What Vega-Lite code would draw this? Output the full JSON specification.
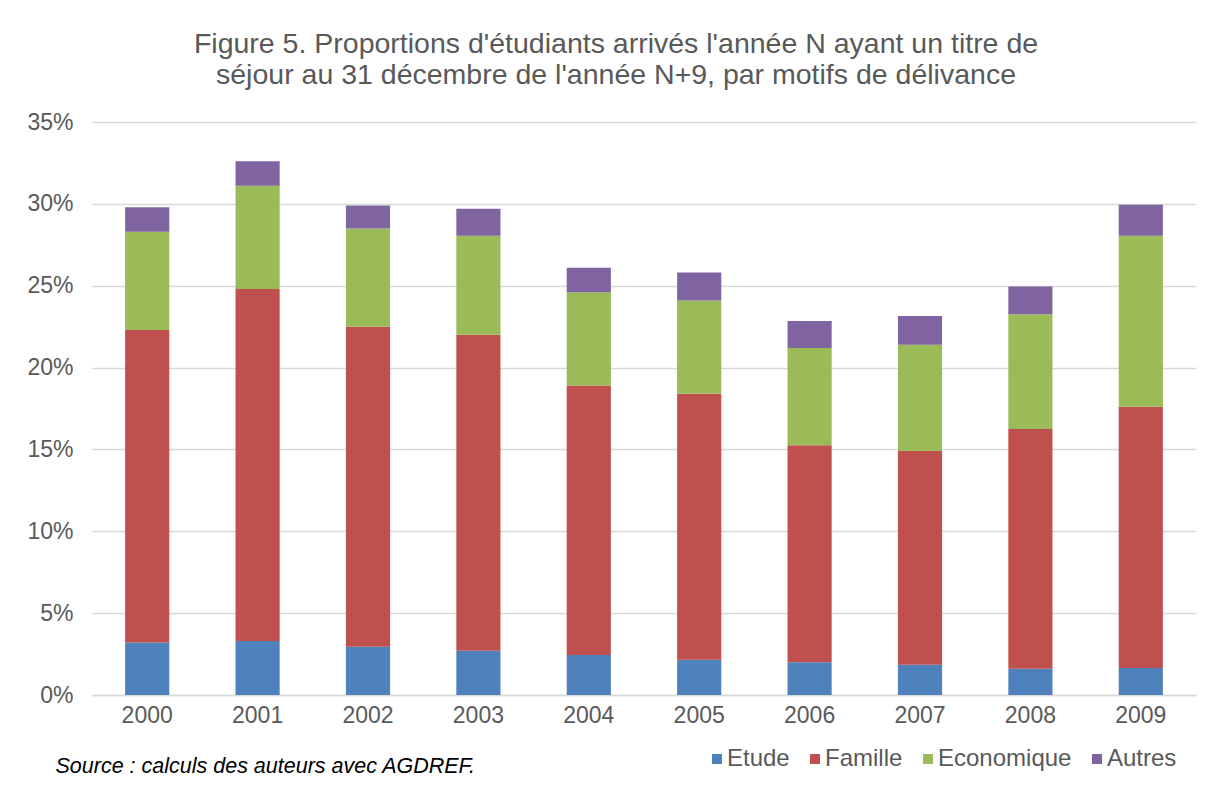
{
  "$schema": "https://vega.github.io/schema/vega-lite/v6.json",
  "autosize": "none",
  "width": 1104,
  "height": 573,
  "padding": {"left": 92, "top": 122, "right": 26, "bottom": 104},
  "background": "white",
  "title": {
    "text": ["Figure 5. Proportions d'étudiants arrivés l'année N ayant un titre de", "séjour au 31 décembre de l'année N+9, par motifs de délivance"],
    "anchor": "middle",
    "frame": "group",
    "dx": -28,
    "offset": 22,
    "font": "Liberation Sans",
    "fontSize": 28.5,
    "fontWeight": "normal",
    "color": "#595959",
    "lineHeight": 31
  },
  "data": {
    "values": [
      {"annee": "2000", "motif": "Etude", "valeur": 3.2},
      {"annee": "2000", "motif": "Famille", "valeur": 19.1},
      {"annee": "2000", "motif": "Economique", "valeur": 6.0},
      {"annee": "2000", "motif": "Autres", "valeur": 1.5},
      {"annee": "2001", "motif": "Etude", "valeur": 3.3},
      {"annee": "2001", "motif": "Famille", "valeur": 21.5},
      {"annee": "2001", "motif": "Economique", "valeur": 6.3},
      {"annee": "2001", "motif": "Autres", "valeur": 1.5},
      {"annee": "2002", "motif": "Etude", "valeur": 2.95},
      {"annee": "2002", "motif": "Famille", "valeur": 19.55},
      {"annee": "2002", "motif": "Economique", "valeur": 6.0},
      {"annee": "2002", "motif": "Autres", "valeur": 1.4},
      {"annee": "2003", "motif": "Etude", "valeur": 2.7},
      {"annee": "2003", "motif": "Famille", "valeur": 19.3},
      {"annee": "2003", "motif": "Economique", "valeur": 6.05},
      {"annee": "2003", "motif": "Autres", "valeur": 1.65},
      {"annee": "2004", "motif": "Etude", "valeur": 2.45},
      {"annee": "2004", "motif": "Famille", "valeur": 16.45},
      {"annee": "2004", "motif": "Economique", "valeur": 5.7},
      {"annee": "2004", "motif": "Autres", "valeur": 1.5},
      {"annee": "2005", "motif": "Etude", "valeur": 2.15},
      {"annee": "2005", "motif": "Famille", "valeur": 16.25},
      {"annee": "2005", "motif": "Economique", "valeur": 5.7},
      {"annee": "2005", "motif": "Autres", "valeur": 1.7},
      {"annee": "2006", "motif": "Etude", "valeur": 2.0},
      {"annee": "2006", "motif": "Famille", "valeur": 13.25},
      {"annee": "2006", "motif": "Economique", "valeur": 5.95},
      {"annee": "2006", "motif": "Autres", "valeur": 1.65},
      {"annee": "2007", "motif": "Etude", "valeur": 1.85},
      {"annee": "2007", "motif": "Famille", "valeur": 13.05},
      {"annee": "2007", "motif": "Economique", "valeur": 6.5},
      {"annee": "2007", "motif": "Autres", "valeur": 1.75},
      {"annee": "2008", "motif": "Etude", "valeur": 1.6},
      {"annee": "2008", "motif": "Famille", "valeur": 14.65},
      {"annee": "2008", "motif": "Economique", "valeur": 7.0},
      {"annee": "2008", "motif": "Autres", "valeur": 1.7},
      {"annee": "2009", "motif": "Etude", "valeur": 1.65},
      {"annee": "2009", "motif": "Famille", "valeur": 15.95},
      {"annee": "2009", "motif": "Economique", "valeur": 10.45},
      {"annee": "2009", "motif": "Autres", "valeur": 1.9}
    ]
  },
  "mark": {"type": "bar"},
  "encoding": {
    "x": {
      "field": "annee",
      "type": "ordinal",
      "scale": {"paddingInner": 0.6, "paddingOuter": 0.3},
      "axis": {
        "title": "Source : calculs des auteurs avec AGDREF.",
        "titleFont": "Liberation Sans",
        "titleFontStyle": "italic",
        "titleFontWeight": "normal",
        "titleFontSize": 21.5,
        "titleColor": "#000000",
        "titleAlign": "left",
        "titleAnchor": "start",
        "titleBaseline": "alphabetic",
        "titleX": -37,
        "titleY": 77,
        "labelAngle": 0,
        "labelFont": "Liberation Sans",
        "labelFontSize": 23,
        "labelColor": "#595959",
        "labelPadding": 9,
        "ticks": false,
        "domainColor": "#D9D9D9",
        "domainWidth": 1.5
      }
    },
    "y": {
      "field": "valeur",
      "type": "quantitative",
      "stack": "zero",
      "scale": {"domain": [0, 35], "nice": false},
      "axis": {
        "title": null,
        "values": [0, 5, 10, 15, 20, 25, 30, 35],
        "labelExpr": "datum.value + '%'",
        "labelFont": "Liberation Sans",
        "labelFontSize": 23,
        "labelColor": "#595959",
        "labelPadding": 19,
        "ticks": false,
        "domain": false,
        "gridColor": "#D9D9D9",
        "gridWidth": 1.5
      }
    },
    "color": {
      "field": "motif",
      "type": "nominal",
      "sort": ["Etude", "Famille", "Economique", "Autres"],
      "scale": {
        "domain": ["Etude", "Famille", "Economique", "Autres"],
        "range": ["#4F81BD", "#C0504D", "#9BBB59", "#8064A2"]
      },
      "legend": {
        "title": null,
        "orient": "none",
        "direction": "horizontal",
        "legendX": 613,
        "legendY": 625,
        "symbolType": "square",
        "symbolSize": 100,
        "symbolStrokeWidth": 0,
        "labelFont": "Liberation Sans",
        "labelFontSize": 24,
        "labelColor": "#595959",
        "labelOffset": -2,
        "columnPadding": 13
      }
    },
    "order": {"field": "ordre", "type": "quantitative"}
  },
  "transform": [
    {"calculate": "indexof(['Etude','Famille','Economique','Autres'], datum.motif)", "as": "ordre"}
  ],
  "config": {"view": {"stroke": null}}
}
